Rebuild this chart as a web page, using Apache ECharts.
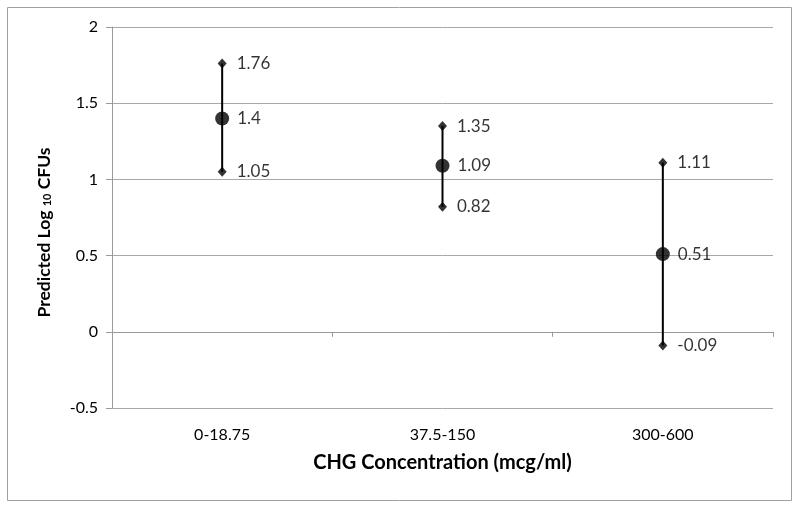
<!DOCTYPE html>
<html><head><meta charset="utf-8">
<script src="https://cdn.jsdelivr.net/npm/echarts@6/dist/echarts.min.js"></script>
<style>html,body{margin:0;padding:0;background:#fff}#c{width:800px;height:509px}</style>
</head><body><div id="c"></div>
<script>
var categories = ['0-18.75', '37.5-150', '300-600'];
var highValues = [1.76, 1.35, 1.11];
var meanValues = [1.4, 1.09, 0.51];
var lowValues = [1.05, 0.82, -0.09];
var yTicks = [-0.5, 0, 0.5, 1, 1.5, 2];

var FONT = 'Lato';
var chart = echarts.init(document.getElementById('c'));
var gray = '#9a9a9a';

function pts(vals){ return vals.map(function(v,i){ return [categories[i], v]; }); }
var barData = categories.map(function(c,i){ return [i, lowValues[i], highValues[i]]; });

var option = {
  animation: false,
  textStyle: {fontFamily: FONT, color: '#000'},
  graphic: [{type:'rect', shape:{x:7.5,y:7.5,width:784,height:493}, style:{fill:'none', stroke:'#a0a0a0', lineWidth:1}, silent:true}],
  grid: {left:112, right:27, top:27, bottom:101, containLabel:false},
  xAxis: [{
    type:'category', data:categories, position:'bottom',
    axisLine:{show:false, onZero:false}, axisTick:{show:false},
    axisLabel:{fontFamily:FONT, fontSize:16, color:'#000', margin:19},
    name:'CHG Concentration (mcg/ml)', nameLocation:'middle', nameGap:45,
    nameTextStyle:{fontFamily:FONT, fontSize:20, fontWeight:'bold', color:'#000'}
  },{
    type:'category', data:categories, position:'bottom',
    axisLine:{show:true, onZero:true, lineStyle:{color:gray, width:1}},
    axisTick:{show:true, length:5, alignWithLabel:false, lineStyle:{color:gray}},
    axisLabel:{show:false}
  }],
  yAxis: {
    type:'value', min:-0.5, max:2, interval:0.5,
    axisLine:{show:true, lineStyle:{color:gray}},
    axisTick:{show:true, length:6, lineStyle:{color:gray}},
    splitLine:{show:true, lineStyle:{color:'#a8a8a8', width:1}},
    axisLabel:{fontFamily:FONT, fontSize:16, color:'#000', margin:14,
      formatter:function(v){ return String(Math.round(v*10)/10); }},
    name:'{a|Predicted Log }{b|10}{a| CFUs}', nameLocation:'middle', nameGap:59, nameRotate:90,
    nameTextStyle:{padding:[0,30,0,0], rich:{
      a:{fontFamily:FONT, fontSize:17.5, fontWeight:'bold', color:'#000', verticalAlign:'bottom', lineHeight:22},
      b:{fontFamily:FONT, fontSize:11, fontWeight:'bold', color:'#000', verticalAlign:'bottom', lineHeight:14}
    }}
  },
  series: [
    {type:'custom', xAxisIndex:0, data:barData, z:2,
     renderItem:function(params, api){
       var p1 = api.coord([api.value(0), api.value(1)]);
       var p2 = api.coord([api.value(0), api.value(2)]);
       return {type:'line', shape:{x1:p1[0], y1:p1[1], x2:p2[0], y2:p2[1]}, style:{stroke:'#000', lineWidth:2}};
     }},
    {type:'scatter', xAxisIndex:0, data:pts(highValues), symbol:'diamond', symbolSize:[9,10], itemStyle:{color:'#000'}, z:3,
     label:{show:true, position:'right', distance:10, fontFamily:FONT, fontSize:17, color:'#000'}},
    {type:'scatter', xAxisIndex:0, data:pts(meanValues), symbol:'circle', symbolSize:14, itemStyle:{color:'#000'}, z:3,
     label:{show:true, position:'right', distance:8, fontFamily:FONT, fontSize:17, color:'#000'}},
    {type:'scatter', xAxisIndex:0, data:pts(lowValues), symbol:'diamond', symbolSize:[9,10], itemStyle:{color:'#000'}, z:3,
     label:{show:true, position:'right', distance:10, fontFamily:FONT, fontSize:17, color:'#000'}}
  ]
};
chart.setOption(option);
</script></body></html>
